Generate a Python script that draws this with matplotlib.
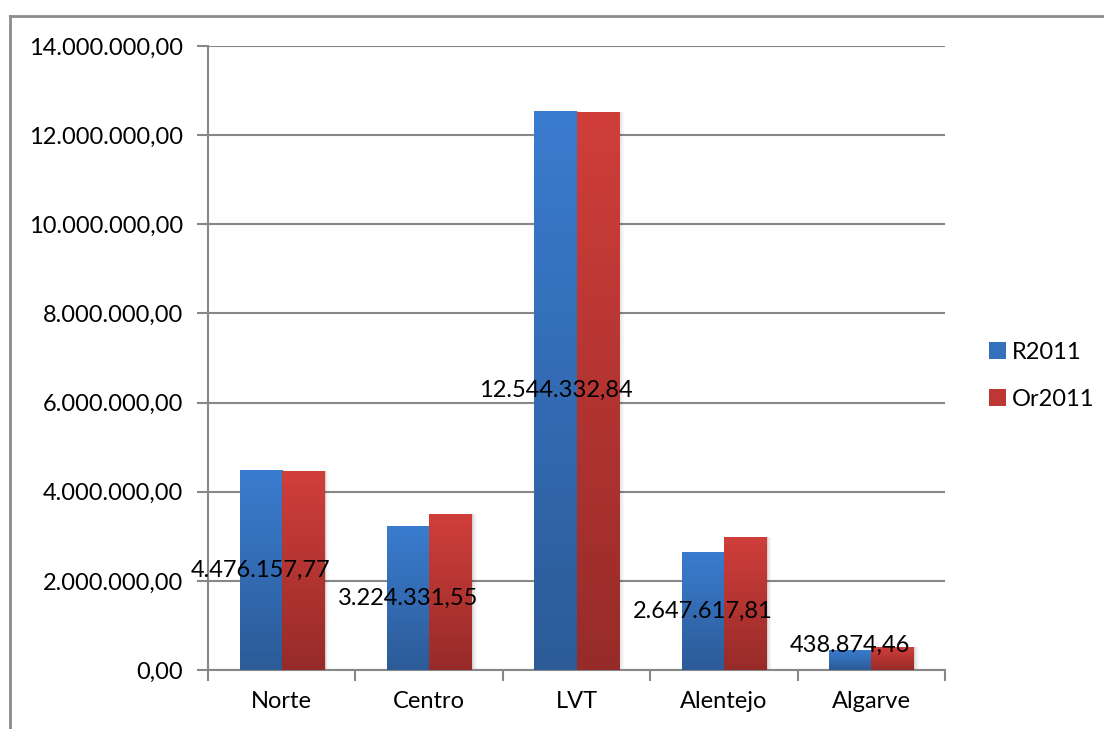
import numpy as np
import matplotlib
matplotlib.use('Agg')
import matplotlib.pyplot as plt
from matplotlib.colors import LinearSegmentedColormap
from matplotlib.lines import Line2D
from matplotlib.patches import Patch

categories = ['Norte', 'Centro', 'LVT', 'Alentejo', 'Algarve']
r2011 = [4476157.77, 3224331.55, 12544332.84, 2647617.81, 438874.46]
or2011 = [4460000, 3500000, 12510000, 2980000, 516000]
yticks = [0, 2000000, 4000000, 6000000, 8000000, 10000000, 12000000, 14000000]


def pt_fmt(v):
    s = f'{v:,.2f}'
    return s.replace(',', 'X').replace('.', ',').replace('X', '.')


plt.rcParams['font.family'] = ['Lato', 'DejaVu Sans']
GRID = '#878787'
FS = 17

fig = plt.figure(figsize=(11.04, 7.29), dpi=100)
ax = fig.add_axes([208 / 1104, 1 - 670 / 729, (945 - 208) / 1104, (670 - 46) / 729])

x = np.arange(len(categories))
w = 1 / 3.5
blue_cmap = LinearSegmentedColormap.from_list('b', ['#2c5b98', '#3a7ccf'])
red_cmap = LinearSegmentedColormap.from_list('r', ['#972b29', '#d03e3a'])
grad = np.linspace(0, 1, 256).reshape(-1, 1)

bars_b = ax.bar(x - w / 2, r2011, w, color='none', zorder=3)
bars_r = ax.bar(x + w / 2, or2011, w, color='none', zorder=3)
for bars, cmap in ((bars_b, blue_cmap), (bars_r, red_cmap)):
    for b in bars:
        x0, y0 = b.get_x(), b.get_y()
        bw, bh = b.get_width(), b.get_height()
        # soft shadow on the right
        for k, a in enumerate([0.10, 0.06, 0.03]):
            ax.bar(x0 + bw / 2 + 0.012 * (k + 1), bh, bw, bottom=y0,
                   color='black', alpha=a, lw=0, zorder=2)
        im = ax.imshow(grad, cmap=cmap, origin='lower', aspect='auto',
                       extent=[x0, x0 + bw, y0, y0 + bh], zorder=3)
        im.set_clip_path(b)

for i, v in enumerate(r2011):
    ypos = max(v / 2, 560000)
    ax.text(x[i] - w / 2, ypos, pt_fmt(v), ha='center', va='center',
            fontsize=FS, color='black', zorder=5)

ax.set_xlim(-0.5, len(categories) - 0.5)
ax.set_ylim(0, 14000000)
ax.set_yticks(yticks)
ax.set_yticklabels([pt_fmt(v) for v in yticks], fontsize=FS)
ax.set_xticks(np.arange(-0.5, len(categories), 1))
ax.set_xticklabels([])
ax.set_xticks(x, minor=True)
ax.set_xticklabels(categories, minor=True, fontsize=FS)
ax.tick_params(axis='x', which='minor', length=0, pad=15)
ax.tick_params(axis='x', which='major', length=8, width=1.5, color=GRID, direction='out')
ax.tick_params(axis='y', length=8, width=1.5, color=GRID, direction='out', pad=10)
ax.grid(axis='y', color=GRID, lw=1.5, zorder=1)
ax.set_axisbelow(True)
for s in ['top', 'right']:
    ax.spines[s].set_visible(False)
for s in ['left', 'bottom']:
    ax.spines[s].set_color(GRID)
    ax.spines[s].set_linewidth(1.5)

handles = [Patch(facecolor='#3570bb', edgecolor='none'),
           Patch(facecolor='#bd3734', edgecolor='none')]
fig.legend(handles, ['R2011', 'Or2011'], loc='center left',
           bbox_to_anchor=(968 / 1104, 1 - 376 / 729), frameon=False,
           fontsize=FS, handlelength=0.7, handleheight=0.7,
           handletextpad=0.25, labelspacing=1.1)

# chart area border (top and left visible)
fig.add_artist(Line2D([10 / 1104, 1], [1 - 16 / 729, 1 - 16 / 729],
                      transform=fig.transFigure, color='#8c8c8c', lw=2))
fig.add_artist(Line2D([10 / 1104, 10 / 1104], [0, 1 - 16 / 729],
                      transform=fig.transFigure, color='#8c8c8c', lw=2))

fig.savefig('out.png', dpi=100)
